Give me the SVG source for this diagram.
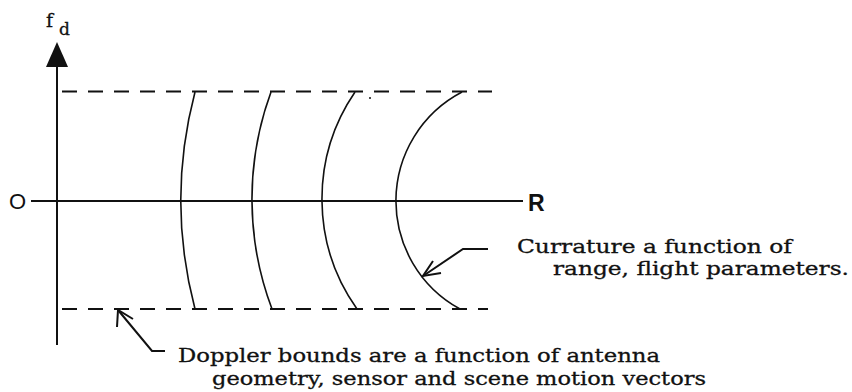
<svg xmlns="http://www.w3.org/2000/svg" width="852" height="392" viewBox="0 0 852 392">
<style>
.ax{stroke:#111;stroke-width:2;fill:none}
.dash{stroke:#111;stroke-width:2;fill:none;stroke-dasharray:15 11}
.cv{stroke:#111;stroke-width:1.6;fill:none}
.ld{stroke:#111;stroke-width:2;fill:none;stroke-linejoin:miter}
.tx{font-family:"DejaVu Serif","Liberation Serif",serif;font-size:18px;fill:#111;stroke:#111;stroke-width:0.3}
.sx{font-family:"Liberation Sans",Arial,sans-serif;fill:#111}
</style>
<rect width="852" height="392" fill="#fff"/>
<g id="axes">
<line class="ax" x1="57" y1="60" x2="57" y2="345"/>
<polygon points="57,42 46,67 68,67" fill="#111"/>
<line class="ax" x1="31" y1="201" x2="523" y2="201"/>
</g>
<g id="axis-labels">
<text class="tx" x="46" y="27" style="font-size:19px">f</text>
<text class="tx" x="59" y="35" style="font-size:17px">d</text>
<text class="sx" x="9" y="209" font-size="22">O</text>
<text class="sx" x="528" y="211" font-size="23" font-weight="bold">R</text>
</g>
<g id="doppler-bounds">
<line class="dash" x1="62" y1="91.5" x2="492" y2="91.5"/>
<line class="dash" x1="62" y1="309" x2="488" y2="309"/>
<circle cx="370" cy="98" r="1" fill="#111"/>
</g>
<g id="range-curves">
<path class="cv" d="M195,92 A427,427 0 0 0 195,309"/>
<path class="cv" d="M271,92 A311,311 0 0 0 272,309"/>
<path class="cv" d="M355,92 A190,190 0 0 0 357,309"/>
<path class="cv" d="M462,92 A123,123 0 0 0 460,309"/>
</g>
<g id="connectors">
<path class="ld" d="M488,249 L463,249 L423,276"/>
<path class="ld" d="M433,261 L423,276 L441,273"/>
<path class="ld" d="M165,351 L152,351 L118,310"/>
<path class="ld" d="M117,327 L118,310 L133,319"/>
</g>
<g id="curvature-note">
<text class="tx" x="517" y="253" textLength="275" lengthAdjust="spacingAndGlyphs">Currature a function of</text>
<text class="tx" x="553" y="275" textLength="296" lengthAdjust="spacingAndGlyphs">range, flight parameters.</text>
</g>
<g id="doppler-note">
<text class="tx" x="178" y="362" textLength="482" lengthAdjust="spacingAndGlyphs">Doppler bounds are a function of antenna</text>
<text class="tx" x="212" y="385" textLength="494" lengthAdjust="spacingAndGlyphs">geometry, sensor and scene motion vectors</text>
</g>
</svg>
